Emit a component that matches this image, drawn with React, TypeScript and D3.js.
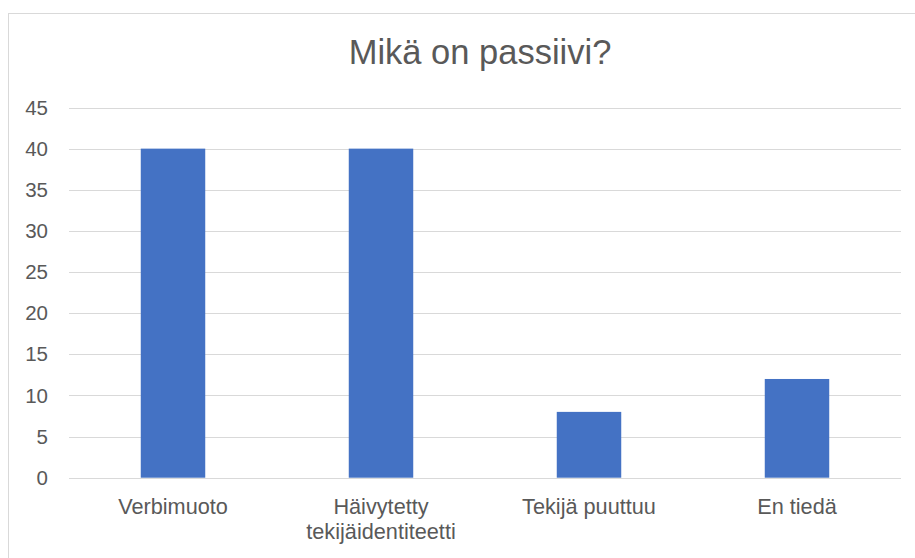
import React from "react";
import * as d3 from "d3";

const categories: string[][] = [["Verbimuoto"], ["Häivytetty", "tekijäidentiteetti"], ["Tekijä puuttuu"], ["En tiedä"]];
const values: number[] = [40, 40, 8, 12];
const yTicks: number[] = [0, 5, 10, 15, 20, 25, 30, 35, 40, 45];
const title = "Mikä on passiivi?";

export default function App() {
  const W = 915, H = 558;
  const left = 69, right = 901, top = 107.5, bottom = 477.7;
  const x = d3.scaleBand<number>().domain(d3.range(values.length)).range([left, right]).paddingInner(0.69).paddingOuter(0.345);
  const y = d3.scaleLinear().domain([0, 45]).range([bottom, top]);
  const font = "'Liberation Sans', Arial, sans-serif";
  const text = "#595959";
  return (
    <svg width={W} height={H} style={{ position: "absolute", left: 0, top: 0 }} fontFamily={font}>
      <rect x={0} y={0} width={W} height={H} fill="#fff" />
      <rect x={8.5} y={13.5} width={W + 20} height={H + 20} fill="#fff" stroke="#d9d9d9" strokeWidth={1} />
      <text x={480} y={64} textAnchor="middle" fontSize={34.5} fill={text}>{title}</text>
      {yTicks.map((t) => (
        <g key={t}>
          <line x1={left} x2={right} y1={Math.round(y(t)) + 0.5} y2={Math.round(y(t)) + 0.5} stroke="#d9d9d9" strokeWidth={1.2} />
          <text x={48} y={y(t)} dy="0.35em" textAnchor="end" fontSize={20.5} fill={text}>{t}</text>
        </g>
      ))}
      {values.map((v, i) => (
        <rect key={i} x={x(i)} y={y(v)} width={x.bandwidth()} height={y(0) - y(v)} fill="#4472c4" />
      ))}
      {categories.map((lines, i) => (
        <text key={i} x={(x(i) as number) + x.bandwidth() / 2} y={514} textAnchor="middle" fontSize={21.7} fill={text}>
          {lines.map((l, j) => (
            <tspan key={j} x={(x(i) as number) + x.bandwidth() / 2} dy={j === 0 ? 0 : 24.5}>{l}</tspan>
          ))}
        </text>
      ))}
    </svg>
  );
}
